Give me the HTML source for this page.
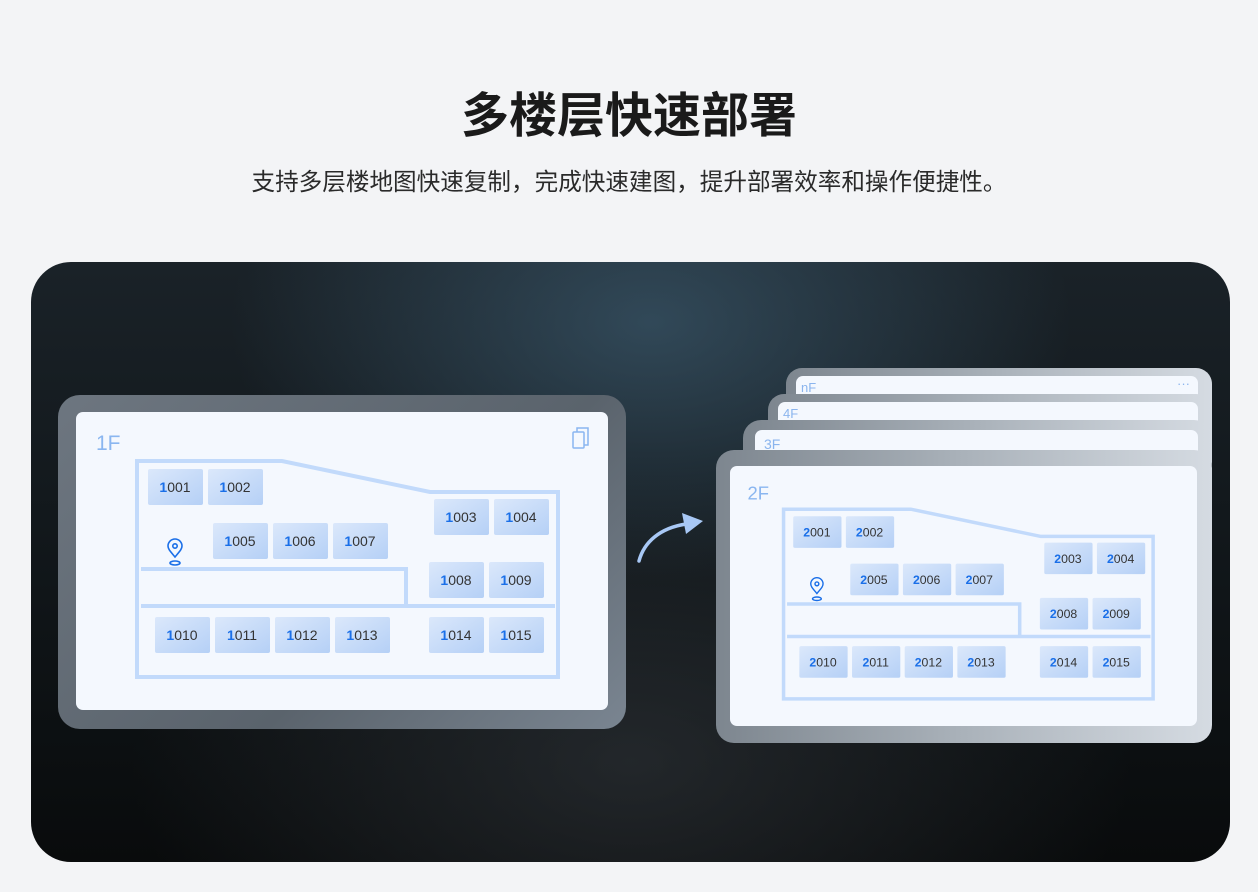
<!DOCTYPE html>
<html><head><meta charset="utf-8"><style>
*{margin:0;padding:0;box-sizing:border-box}
body{width:1258px;height:892px;background:#f3f4f6;position:relative;overflow:hidden;font-family:"Liberation Sans","Noto Sans CJK SC",sans-serif}
.t{position:absolute;left:0;width:1258px;text-align:center;color:#1a1a1a}
.panel{position:absolute;left:31px;top:262px;width:1199px;height:600px;border-radius:40px;overflow:hidden;
background:radial-gradient(ellipse 420px 260px at 620px 60px,rgba(60,90,110,.7),rgba(0,0,0,0) 100%),
radial-gradient(ellipse 500px 300px at 600px 500px,rgba(50,55,60,.6),rgba(0,0,0,0) 100%),
linear-gradient(180deg,#1a2228 0%,#0f1417 60%,#090b0c 100%)}
.frame{position:absolute;border-radius:22px;background:linear-gradient(135deg,#6d7680,#5a636c 60%,#7a8591)}
.frameR{background:linear-gradient(90deg,#7d868f,#aab2ba 50%,#d5dbe2)}
.inner{position:absolute;background:#f4f8fe;border-radius:7px;overflow:hidden}
.lbl{position:absolute;color:#8bb5ee;font-size:13px}
</style></head><body>
<div class="t" style="top:86px;font-size:48px;font-weight:bold;line-height:62px">多楼层快速部署</div>
<div class="t" style="top:168px;font-size:23.6px;line-height:30px;color:#2a2a2a">支持多层楼地图快速复制，完成快速建图，提升部署效率和操作便捷性。</div>
<div class="panel"></div>

<!-- left -->
<div class="frame" style="left:58px;top:395px;width:568px;height:334px"></div>
<div class="inner" style="left:76px;top:412px;width:532px;height:298px">
<svg width="532" height="298" viewBox="0 0 532 298" font-family="Liberation Sans, sans-serif">
<defs><linearGradient id="g" x1="0" y1="0" x2="1" y2="1"><stop offset="0" stop-color="#dbe8fb"/><stop offset="1" stop-color="#b5d0f6"/></linearGradient></defs>
<text x="20" y="38" font-size="21" fill="#8ab6f0">1F</text>
<g fill="none" stroke="#8ab6f0" stroke-width="1.5"><rect x="497" y="20" width="11" height="16" rx="1"/><path d="M501 20v-4h11v17h-4"/></g>
<g fill="none" stroke="#c2dafb" stroke-width="4"><path d="M61 49H206L354 80H482V265H61Z"/><path d="M65 157H330V194M65 194H479"/></g>
<g fill="none" stroke="#1a6fe8" stroke-width="1.6"><path d="M99 145c-5-6-7-8-7-11a7 7 0 0 1 14 0c0 3-2 5-7 11z"/><circle cx="99" cy="134" r="2.2"/><ellipse cx="99" cy="151" rx="5" ry="2"/></g>
<g fill="url(#g)">
<rect x="72" y="57" width="55" height="36" rx="2"/><rect x="132" y="57" width="55" height="36" rx="2"/>
<rect x="358" y="87" width="55" height="36" rx="2"/><rect x="418" y="87" width="55" height="36" rx="2"/>
<rect x="137" y="111" width="55" height="36" rx="2"/><rect x="197" y="111" width="55" height="36" rx="2"/><rect x="257" y="111" width="55" height="36" rx="2"/>
<rect x="353" y="150" width="55" height="36" rx="2"/><rect x="413" y="150" width="55" height="36" rx="2"/>
<rect x="79" y="205" width="55" height="36" rx="2"/><rect x="139" y="205" width="55" height="36" rx="2"/><rect x="199" y="205" width="55" height="36" rx="2"/><rect x="259" y="205" width="55" height="36" rx="2"/>
<rect x="353" y="205" width="55" height="36" rx="2"/><rect x="413" y="205" width="55" height="36" rx="2"/>
</g>
<g font-size="14" fill="#333" text-anchor="middle">
<text x="99" y="80"><tspan fill="#1a6fe8" font-weight="bold">1</tspan>001</text>
<text x="159" y="80"><tspan fill="#1a6fe8" font-weight="bold">1</tspan>002</text>
<text x="385" y="110"><tspan fill="#1a6fe8" font-weight="bold">1</tspan>003</text>
<text x="445" y="110"><tspan fill="#1a6fe8" font-weight="bold">1</tspan>004</text>
<text x="164" y="134"><tspan fill="#1a6fe8" font-weight="bold">1</tspan>005</text>
<text x="224" y="134"><tspan fill="#1a6fe8" font-weight="bold">1</tspan>006</text>
<text x="284" y="134"><tspan fill="#1a6fe8" font-weight="bold">1</tspan>007</text>
<text x="380" y="173"><tspan fill="#1a6fe8" font-weight="bold">1</tspan>008</text>
<text x="440" y="173"><tspan fill="#1a6fe8" font-weight="bold">1</tspan>009</text>
<text x="106" y="228"><tspan fill="#1a6fe8" font-weight="bold">1</tspan>010</text>
<text x="166" y="228"><tspan fill="#1a6fe8" font-weight="bold">1</tspan>011</text>
<text x="226" y="228"><tspan fill="#1a6fe8" font-weight="bold">1</tspan>012</text>
<text x="286" y="228"><tspan fill="#1a6fe8" font-weight="bold">1</tspan>013</text>
<text x="380" y="228"><tspan fill="#1a6fe8" font-weight="bold">1</tspan>014</text>
<text x="440" y="228"><tspan fill="#1a6fe8" font-weight="bold">1</tspan>015</text>
</g></svg></div>

<!-- arrow -->
<svg style="position:absolute;left:620px;top:500px" width="100" height="80">
<path d="M19 61C24 42 40 28 66 24" fill="none" stroke="#a8c8f5" stroke-width="3.5" stroke-linecap="round"/>
<path d="M62 13L83 21L66 34Z" fill="#a8c8f5"/></svg>

<!-- stack -->
<div class="frame frameR" style="left:786px;top:368px;width:426px;height:60px;border-radius:16px"></div>
<div class="inner" style="left:796px;top:376px;width:402px;height:40px"><span class="lbl" style="left:5px;top:4px">nF</span><span class="lbl" style="right:8px;top:0px">···</span></div>
<div class="frame frameR" style="left:768px;top:394px;width:444px;height:60px;border-radius:16px"></div>
<div class="inner" style="left:778px;top:402px;width:420px;height:40px"><span class="lbl" style="left:5px;top:4px">4F</span></div>
<div class="frame frameR" style="left:743px;top:420px;width:469px;height:60px;border-radius:18px"></div>
<div class="inner" style="left:755px;top:430px;width:443px;height:40px"><span class="lbl" style="left:9px;top:6px;font-size:14px">3F</span></div>
<div class="frame frameR" style="left:716px;top:450px;width:496px;height:293px;border-radius:18px"></div>
<div class="inner" style="left:730px;top:466px;width:467px;height:260px">
<svg width="467" height="262" viewBox="0 0 532 298" font-family="Liberation Sans, sans-serif">
<defs><linearGradient id="g2" x1="0" y1="0" x2="1" y2="1"><stop offset="0" stop-color="#dbe8fb"/><stop offset="1" stop-color="#b5d0f6"/></linearGradient></defs>
<text x="20" y="38" font-size="21" fill="#8ab6f0">2F</text>
<g fill="none" stroke="#c2dafb" stroke-width="4"><path d="M61 49H206L354 80H482V265H61Z"/><path d="M65 157H330V194M65 194H479"/></g>
<g fill="none" stroke="#1a6fe8" stroke-width="1.6"><path d="M99 145c-5-6-7-8-7-11a7 7 0 0 1 14 0c0 3-2 5-7 11z"/><circle cx="99" cy="134" r="2.2"/><ellipse cx="99" cy="151" rx="5" ry="2"/></g>
<g fill="url(#g2)">
<rect x="72" y="57" width="55" height="36" rx="2"/><rect x="132" y="57" width="55" height="36" rx="2"/>
<rect x="358" y="87" width="55" height="36" rx="2"/><rect x="418" y="87" width="55" height="36" rx="2"/>
<rect x="137" y="111" width="55" height="36" rx="2"/><rect x="197" y="111" width="55" height="36" rx="2"/><rect x="257" y="111" width="55" height="36" rx="2"/>
<rect x="353" y="150" width="55" height="36" rx="2"/><rect x="413" y="150" width="55" height="36" rx="2"/>
<rect x="79" y="205" width="55" height="36" rx="2"/><rect x="139" y="205" width="55" height="36" rx="2"/><rect x="199" y="205" width="55" height="36" rx="2"/><rect x="259" y="205" width="55" height="36" rx="2"/>
<rect x="353" y="205" width="55" height="36" rx="2"/><rect x="413" y="205" width="55" height="36" rx="2"/>
</g>
<g font-size="14" fill="#333" text-anchor="middle">
<text x="99" y="80"><tspan fill="#1a6fe8" font-weight="bold">2</tspan>001</text>
<text x="159" y="80"><tspan fill="#1a6fe8" font-weight="bold">2</tspan>002</text>
<text x="385" y="110"><tspan fill="#1a6fe8" font-weight="bold">2</tspan>003</text>
<text x="445" y="110"><tspan fill="#1a6fe8" font-weight="bold">2</tspan>004</text>
<text x="164" y="134"><tspan fill="#1a6fe8" font-weight="bold">2</tspan>005</text>
<text x="224" y="134"><tspan fill="#1a6fe8" font-weight="bold">2</tspan>006</text>
<text x="284" y="134"><tspan fill="#1a6fe8" font-weight="bold">2</tspan>007</text>
<text x="380" y="173"><tspan fill="#1a6fe8" font-weight="bold">2</tspan>008</text>
<text x="440" y="173"><tspan fill="#1a6fe8" font-weight="bold">2</tspan>009</text>
<text x="106" y="228"><tspan fill="#1a6fe8" font-weight="bold">2</tspan>010</text>
<text x="166" y="228"><tspan fill="#1a6fe8" font-weight="bold">2</tspan>011</text>
<text x="226" y="228"><tspan fill="#1a6fe8" font-weight="bold">2</tspan>012</text>
<text x="286" y="228"><tspan fill="#1a6fe8" font-weight="bold">2</tspan>013</text>
<text x="380" y="228"><tspan fill="#1a6fe8" font-weight="bold">2</tspan>014</text>
<text x="440" y="228"><tspan fill="#1a6fe8" font-weight="bold">2</tspan>015</text>
</g></svg></div>
</body></html>
